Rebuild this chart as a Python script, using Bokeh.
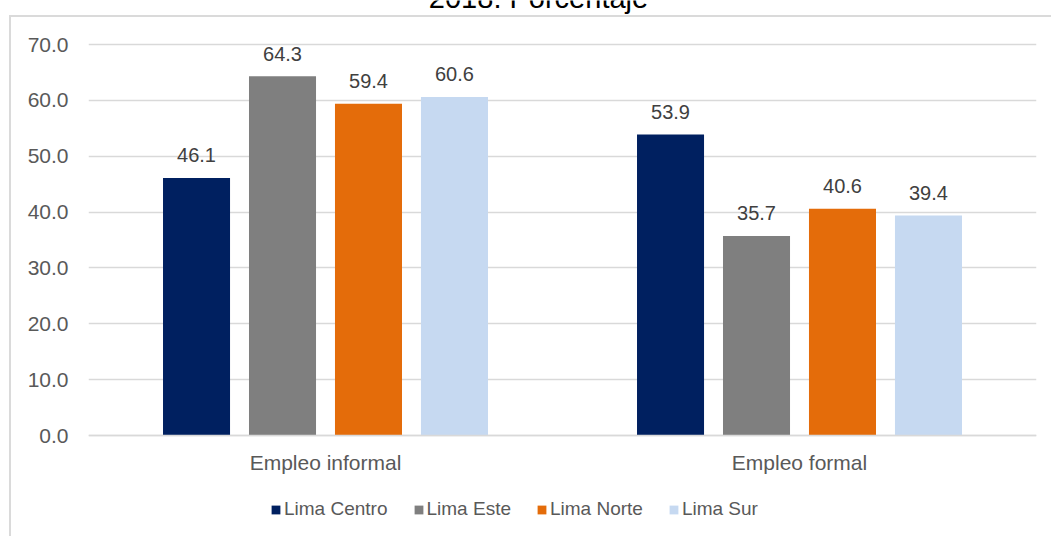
from bokeh.plotting import figure
from bokeh.models import (ColumnDataSource, FactorRange, Legend, LegendItem, Label,
                          LabelSet, FixedTicker, NumeralTickFormatter, Range1d)
from bokeh.core.properties import value
from bokeh.transform import dodge
from bokeh.embed import file_html
from bokeh.resources import INLINE

# ---- data ----
categories = ["Empleo informal", "Empleo formal"]
regions = ["Lima Centro", "Lima Este", "Lima Norte", "Lima Sur"]
lima_centro = [46.1, 53.9]
lima_este = [64.3, 35.7]
lima_norte = [59.4, 40.6]
lima_sur = [60.6, 39.4]
y_ticks = [0, 10, 20, 30, 40, 50, 60, 70]
title_text = "2018: Porcentaje"

colors = ["#002060", "#7F7F7F", "#E46C0A", "#C6D9F1"]
FONT = "Liberation Sans"

# plot area spans the whole canvas height; value axis 0..70 occupies y=44..435 px
PX_PER_UNIT = 391 / 70
y_top = 70 + 44 / PX_PER_UNIT
y_bottom = -(536 - 435) / PX_PER_UNIT

p = figure(x_range=FactorRange(factors=categories), y_range=Range1d(y_bottom, y_top),
           width=1051, height=536, output_backend="svg", toolbar_location=None,
           min_border_left=88, min_border_right=15, min_border_top=0, min_border_bottom=0)
p.outline_line_color = None
p.background_fill_color = None
p.border_fill_color = None
# white page with the light grey outer chart border (left and top)
p.styles = {
    "background-color": "white",
    "background-image": "linear-gradient(#DADADA, #DADADA), linear-gradient(#DADADA, #DADADA)",
    "background-size": "100% 2px, 2px 100%",
    "background-position": "10px 15px, 9px 15px",
    "background-repeat": "no-repeat",
}

source = ColumnDataSource(dict(cat=categories,
                               s0=lima_centro, s1=lima_este, s2=lima_norte, s3=lima_sur,
                               l0=[f"{v:.1f}" for v in lima_centro],
                               l1=[f"{v:.1f}" for v in lima_este],
                               l2=[f"{v:.1f}" for v in lima_norte],
                               l3=[f"{v:.1f}" for v in lima_sur]))

step = 0.1814
width = 0.1414
items = []
for i, (name, col) in enumerate(zip(regions, colors)):
    off = (i - 1.5) * step
    r = p.vbar(x=dodge("cat", off, range=p.x_range), top=f"s{i}", bottom=0, width=width,
               source=source, fill_color=col, line_color=None)
    items.append(LegendItem(label=name, renderers=[r]))
    lbl = LabelSet(x=dodge("cat", off, range=p.x_range), y=f"s{i}", text=f"l{i}",
                   source=source, text_align="center", text_baseline="alphabetic",
                   y_offset=15.6, text_font=value(FONT), text_font_size=value("20px"),
                   text_color=value("#404040"))
    p.add_layout(lbl)

# value axis
p.yaxis.ticker = FixedTicker(ticks=y_ticks)
p.yaxis.formatter = NumeralTickFormatter(format="0.0")
p.yaxis.axis_line_color = None
p.yaxis.major_tick_line_color = None
p.yaxis.minor_tick_line_color = None
p.yaxis.major_tick_out = 0
p.yaxis.major_label_standoff = 20
p.yaxis.major_label_text_font = FONT
p.yaxis.major_label_text_font_size = "21px"
p.yaxis.major_label_text_color = "#595959"

# category axis sits on the zero line
p.xaxis.fixed_location = 0
p.xaxis.axis_line_color = "#D9D9D9"
p.xaxis.axis_line_width = 1.3
p.xaxis.major_tick_line_color = None
p.xaxis.minor_tick_line_color = None
p.xaxis.major_tick_out = 0
p.xaxis.major_label_standoff = 15
p.xaxis.major_label_text_font = FONT
p.xaxis.major_label_text_font_size = "21px"
p.xaxis.major_label_text_color = "#595959"

p.xgrid.grid_line_color = None
p.ygrid.grid_line_color = "#D9D9D9"
p.ygrid.grid_line_width = 1.3

legend = Legend(items=items, orientation="horizontal", location=(182, 16),
                glyph_width=11, glyph_height=11, label_standoff=3, spacing=25,
                padding=0, margin=0, border_line_color=None, background_fill_alpha=0,
                label_text_font=FONT, label_text_font_size="19px",
                label_text_color="#595959")
p.add_layout(legend, "center")

# chart title, cropped at the top edge as in the original image
title = Label(x=450, y=536 + 2.2, x_units="screen", y_units="screen", text=title_text,
              text_align="center", text_baseline="alphabetic", text_font=FONT,
              text_font_size="29px", text_color="#000000")
p.add_layout(title)

open("out.html", "w").write(file_html(p, INLINE))
